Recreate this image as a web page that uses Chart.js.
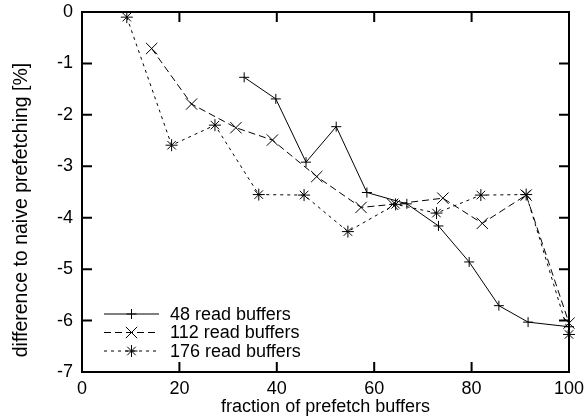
<!DOCTYPE html>
<html>
<head>
<meta charset="utf-8">
<script src="https://cdn.jsdelivr.net/npm/chart.js@4.4.1/dist/chart.umd.min.js"></script>
<style>
  html, body { margin: 0; padding: 0; background: #fff; }
  #wrap { width: 585px; height: 418px; }
</style>
</head>
<body>
<div id="wrap"><canvas id="c" width="585" height="418"></canvas></div>
<script>
// valores
const x48 = [33.3, 39.8, 46.0, 52.2, 58.5, 66.7, 73.2, 79.5, 85.6, 91.6, 100];
const y48 = [-1.27, -1.69, -2.92, -2.23, -3.51, -3.73, -4.16, -4.86, -5.71, -6.03, -6.12];

const x112 = [14.3, 22.5, 31.6, 39.1, 48.2, 57.3, 63.8, 74.1, 82.2, 91.2, 100];
const y112 = [-0.71, -1.79, -2.25, -2.49, -3.20, -3.80, -3.74, -3.62, -4.11, -3.56, -6.05];

const x176 = [9.2, 18.4, 27.3, 36.3, 45.6, 54.6, 64.4, 72.8, 81.9, 91.2, 100];
const y176 = [-0.10, -2.59, -2.20, -3.55, -3.56, -4.27, -3.74, -3.91, -3.56, -3.55, -6.27];

const seriesNames = ["48 read buffers", "112 read buffers", "176 read buffers"];
const xTicks = [0, 20, 40, 60, 80, 100];
const yTicks = [0, -1, -2, -3, -4, -5, -6, -7];
const xTitle = "fraction of prefetch buffers";
const yTitle = "difference to naive prefetching [%]";

const FONT = "Liberation Sans, Arial, Helvetica, sans-serif";

function pts(xs, ys) {
  return xs.map((x, i) => ({ x: x, y: ys[i] }));
}

// bordas, ticks para dentro, título do eixo y e legenda
const gnuplotLook = {
  id: 'gnuplotLook',
  afterDraw(chart) {
    const ctx = chart.ctx;
    const a = chart.chartArea;
    const xs = chart.scales.x, ys = chart.scales.y;
    ctx.save();
    ctx.strokeStyle = '#000';
    ctx.lineWidth = 2;
    ctx.setLineDash([]);
    ctx.strokeRect(a.left, a.top, a.right - a.left, a.bottom - a.top);
    const tl = 10;
    ctx.beginPath();
    xTicks.forEach(v => {
      const px = xs.getPixelForValue(v);
      ctx.moveTo(px, a.bottom); ctx.lineTo(px, a.bottom - tl);
      ctx.moveTo(px, a.top); ctx.lineTo(px, a.top + tl);
    });
    yTicks.forEach(v => {
      const py = ys.getPixelForValue(v);
      ctx.moveTo(a.left, py); ctx.lineTo(a.left + tl, py);
      ctx.moveTo(a.right, py); ctx.lineTo(a.right - tl, py);
    });
    ctx.stroke();

    // título do eixo y
    ctx.fillStyle = '#000';
    ctx.font = '19.5px ' + FONT;
    ctx.textAlign = 'center';
    ctx.textBaseline = 'middle';
    ctx.translate(22, 210);
    ctx.rotate(-Math.PI / 2);
    ctx.fillText(yTitle, 0, 0);
    ctx.restore();

    // legenda
    ctx.save();
    const lx0 = a.left + 22, lx1 = a.left + 77, tx = a.left + 88;
    let ly = a.bottom - 58;
    chart.data.datasets.forEach(ds => {
      ctx.strokeStyle = '#000';
      ctx.lineWidth = 1;
      ctx.setLineDash(ds.borderDash || []);
      ctx.beginPath();
      ctx.moveTo(lx0, ly); ctx.lineTo(lx1, ly);
      ctx.stroke();
      ctx.setLineDash([]);
      Chart.helpers.drawPoint(ctx, {
        pointStyle: ds.pointStyle, radius: ds.pointRadius,
        borderWidth: 1, rotation: 0
      }, (lx0 + lx1) / 2, ly);
      ctx.fillStyle = '#000';
      ctx.font = '18px ' + FONT;
      ctx.textAlign = 'left';
      ctx.textBaseline = 'middle';
      ctx.fillText(ds.label, tx, ly + 1);
      ly += 18.5;
    });
    ctx.restore();
  }
};

const common = {
  borderColor: '#000',
  backgroundColor: '#000',
  pointBorderColor: '#000',
  borderWidth: 1,
  pointBorderWidth: 1,
  fill: false,
  tension: 0,
  clip: false
};

new Chart(document.getElementById('c').getContext('2d'), {
  type: 'line',
  data: {
    datasets: [
      Object.assign({}, common, { label: seriesNames[0], data: pts(x48, y48), pointStyle: 'cross', pointRadius: 5 }),
      Object.assign({}, common, { label: seriesNames[1], data: pts(x112, y112), pointStyle: 'crossRot', pointRadius: 8, borderDash: [7, 4] }),
      Object.assign({}, common, { label: seriesNames[2], data: pts(x176, y176), pointStyle: 'star', pointRadius: 6, borderDash: [3, 4] })
    ]
  },
  options: {
    responsive: false,
    animation: false,
    layout: { padding: { top: 12, right: 16, left: 0, bottom: 0 } },
    plugins: {
      legend: { display: false },
      tooltip: { enabled: false }
    },
    scales: {
      x: {
        type: 'linear',
        min: 0, max: 100,
        afterFit: s => { s.height = 46; s.paddingLeft = 0; s.paddingRight = 0; },
        afterBuildTicks: s => { s.ticks = xTicks.map(v => ({ value: v })); },
        grid: { display: false, drawTicks: false },
        border: { display: false },
        ticks: { color: '#000', font: { family: FONT, size: 18 }, padding: 6, maxRotation: 0 },
        title: {
          display: true, text: xTitle, color: '#000',
          font: { family: FONT, size: 18 }, padding: { top: -4, bottom: 0 }
        }
      },
      y: {
        type: 'linear',
        min: -7, max: 0,
        afterFit: s => { s.width = 82; s.paddingTop = 0; s.paddingBottom = 0; },
        afterBuildTicks: s => { s.ticks = yTicks.map(v => ({ value: v })); },
        grid: { display: false, drawTicks: false },
        border: { display: false },
        ticks: { color: '#000', font: { family: FONT, size: 18 }, padding: 9 }
      }
    }
  },
  plugins: [gnuplotLook]
});
</script>
</body>
</html>
